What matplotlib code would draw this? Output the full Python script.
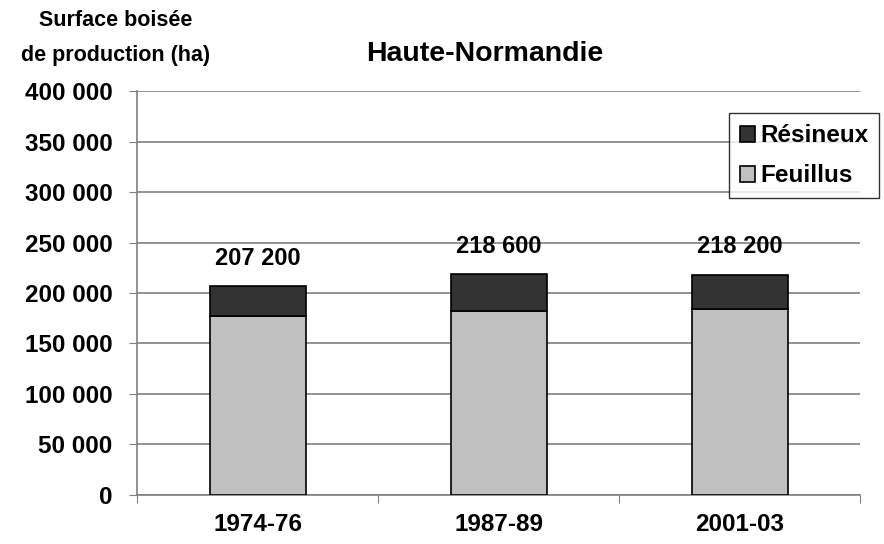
import matplotlib
matplotlib.use("Agg")
from matplotlib import pyplot as plt
import numpy as np

periodes = ['1974-76', '1987-89', '2001-03']
feuillus = [177000, 182500, 184500]
totaux = [207200, 218600, 218200]
resineux = [t - f for t, f in zip(totaux, feuillus)]
labels_totaux = ['207 200', '218 600', '218 200']

plt.rcParams['font.family'] = ['Liberation Sans', 'DejaVu Sans']
plt.rcParams['font.weight'] = 'bold'

fig = plt.figure(figsize=(8.84, 5.44), dpi=100)
ax = fig.add_axes([0.1555, 0.0901, 0.8175, 0.7426])

x = np.arange(len(periodes))
ax.bar(x, feuillus, width=0.4, color='#c0c0c0', edgecolor='black', linewidth=1.2,
       label='Feuillus', zorder=3)
ax.bar(x, resineux, width=0.4, bottom=feuillus, color='#333333', edgecolor='black',
       linewidth=1.2, label='Résineux', zorder=3)

for xi, t, lab in zip(x, totaux, labels_totaux):
    ax.text(xi, t + 16000, lab, ha='center', va='bottom', fontsize=17, fontweight='bold')

ax.set_xlim(-0.5, 2.5)
ax.set_ylim(0, 400000)
yt = np.arange(0, 400001, 50000)
ax.set_yticks(yt)
ax.set_yticklabels(['{:,}'.format(v).replace(',', ' ') for v in yt], fontsize=17.5,
                   fontweight='bold')
ax.yaxis.grid(True, color='#808080', linewidth=1.2, zorder=0)
ax.set_axisbelow(True)

ax.set_xticks([-0.5, 0.5, 1.5, 2.5])
ax.set_xticklabels([])
ax.set_xticks(x, minor=True)
ax.set_xticklabels(periodes, minor=True, fontsize=17.5, fontweight='bold')
ax.tick_params(axis='x', which='minor', length=0, pad=13)
ax.tick_params(axis='x', which='major', length=6, direction='out', color='#808080')
ax.tick_params(axis='y', length=6, color='#808080', pad=12)

for s in ['top', 'right']:
    ax.spines[s].set_visible(False)
for s in ['left', 'bottom']:
    ax.spines[s].set_color('#808080')
    ax.spines[s].set_linewidth(1.2)

fig.text(0.548, 0.9, 'Haute-Normandie', ha='center', va='center', fontsize=20.5,
         fontweight='bold')
fig.text(0.131, 0.962, 'Surface boisée', ha='center', va='center', fontsize=15.5,
         fontweight='bold')
fig.text(0.131, 0.898, 'de production (ha)', ha='center', va='center', fontsize=15.5,
         fontweight='bold')

h, l = ax.get_legend_handles_labels()
leg = ax.legend(h[::-1], l[::-1], loc='upper left', bbox_to_anchor=(0.818, 0.945),
                fontsize=17.5, frameon=True, fancybox=False, edgecolor='black',
                handlelength=0.65, handleheight=0.65, handletextpad=0.2,
                borderpad=0.45, labelspacing=0.7, borderaxespad=0)
leg.get_frame().set_linewidth(1.0)
leg.set_zorder(5)

fig.savefig('out.png', dpi=100)
